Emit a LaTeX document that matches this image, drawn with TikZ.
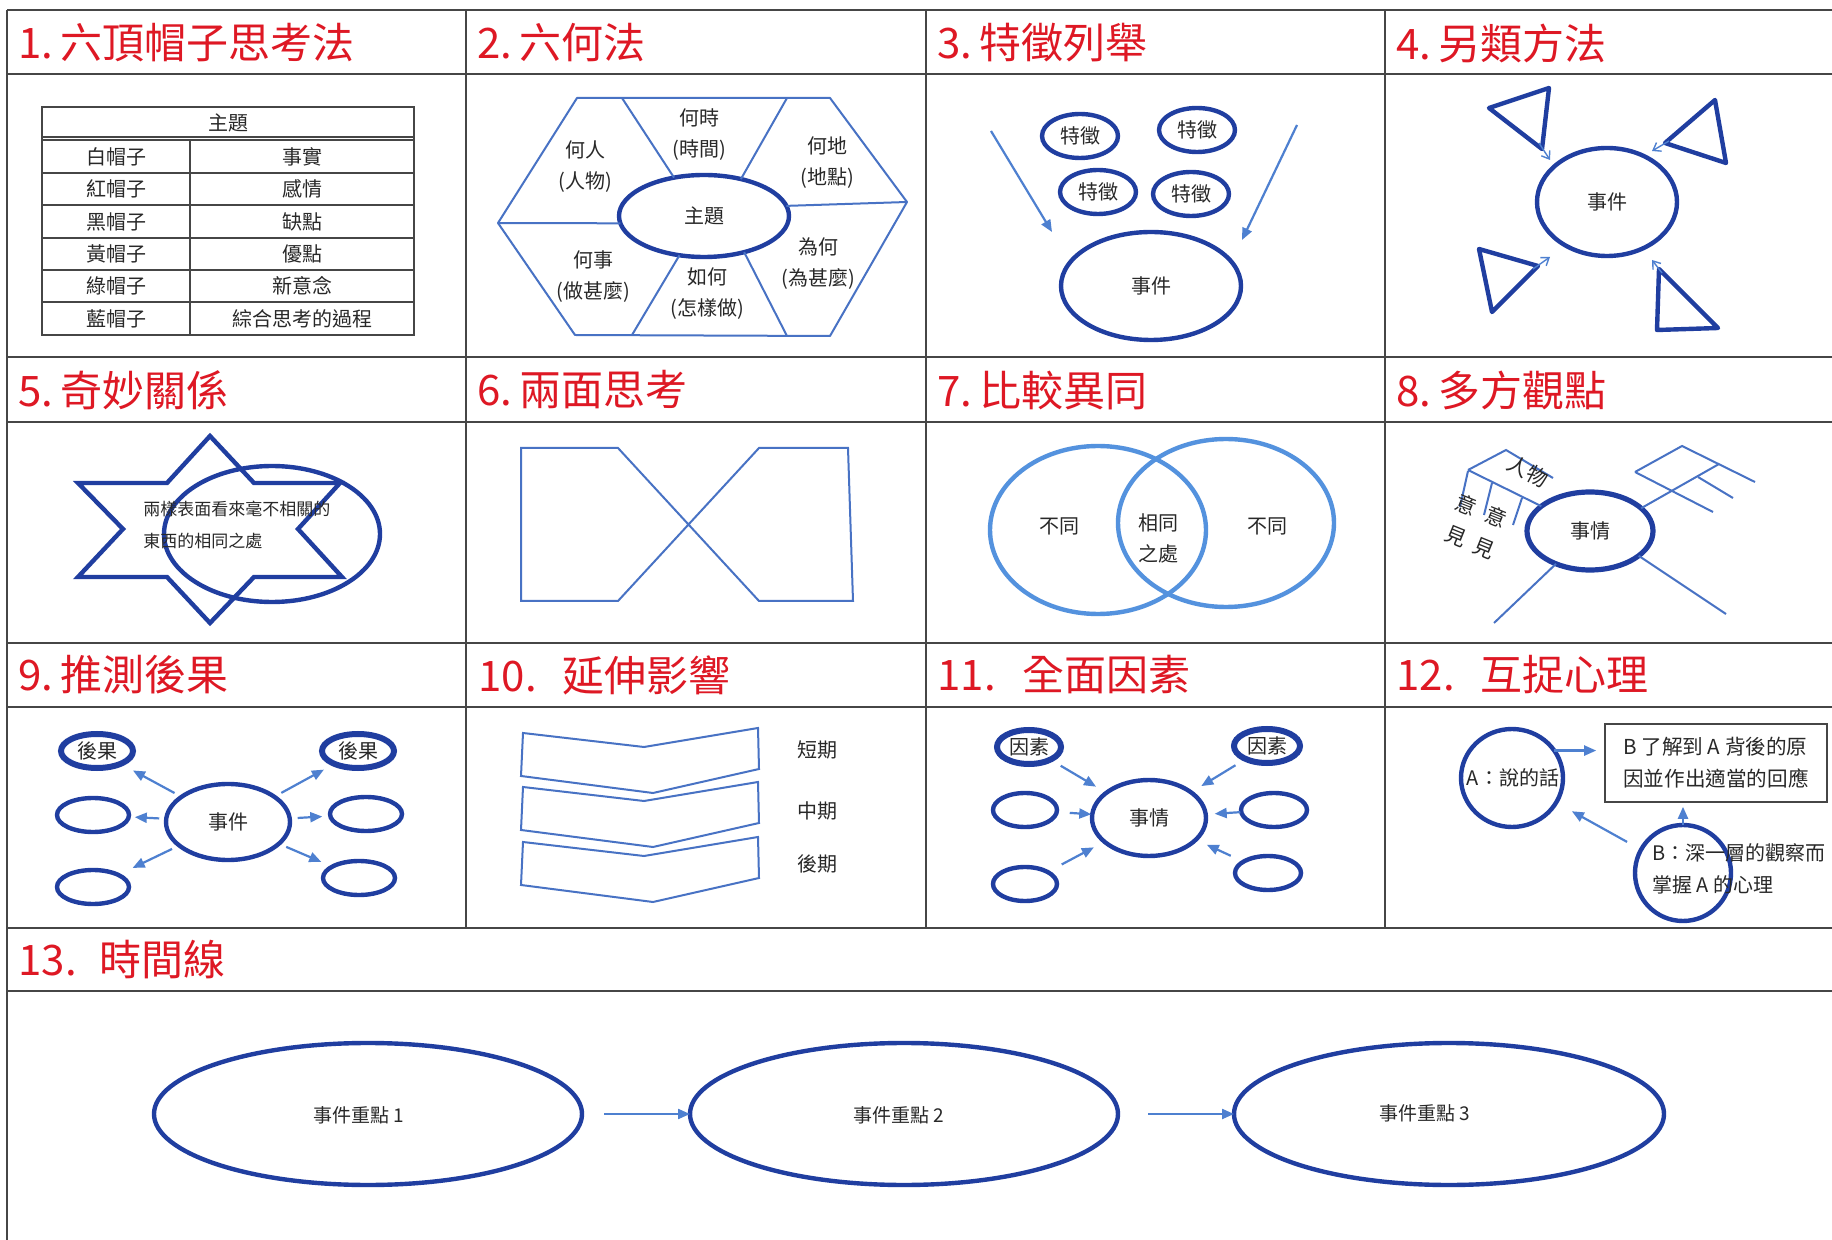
\documentclass[tikz,border=0pt]{standalone}
\usepackage{fontspec}
\setmainfont{Noto Sans CJK TC}
\usetikzlibrary{shapes.geometric,arrows.meta}
\definecolor{dkblue}{RGB}{32,62,160}
\definecolor{mdblue}{RGB}{72,114,196}
\definecolor{ltblue}{RGB}{84,146,222}
\definecolor{arblue}{RGB}{78,128,208}
\definecolor{ttlred}{RGB}{222,24,36}
\definecolor{gridc}{RGB}{70,70,70}
\definecolor{txtc}{RGB}{40,40,40}
\begin{document}
\begin{tikzpicture}[x=0.5pt,y=-0.5pt,
  gridln/.style={draw=gridc, line width=0.9pt},
  tblln/.style={draw=gridc, line width=0.75pt},
  ttl/.style={anchor=west, text=ttlred, font=\fontsize{21}{25}\selectfont, inner sep=0pt},
  lbl/.style={font=\fontsize{10}{15.5}\selectfont, text=txtc, inner sep=0pt, align=center},
  thk/.style={draw=dkblue, line width=2.2pt},
  oval/.style={ellipse, draw=dkblue, line width=2.2pt, inner sep=0pt, outer sep=0pt, font=\fontsize{10}{12}\selectfont, text=txtc},
  mline/.style={draw=mdblue, line width=1pt},
  arr/.style={draw=arblue, line width=1.1pt, -{Triangle[length=6pt,width=5pt]}},
  oarr/.style={draw=arblue, line width=0.7pt, -{Straight Barb[length=3.5pt,width=5pt]}}
]
\useasboundingbox (0,0) rectangle (1832,1240);
\fill[white] (0,0) rectangle (1832,1240);

% ---------- grid ----------
\foreach \yy in {10,74,357,422,643,707,928,991}{\draw[gridln] (7,\yy) -- (1832,\yy);}
\draw[gridln] (7,10) -- (7,1240);
\foreach \xx in {466,926,1385}{\draw[gridln] (\xx,10) -- (\xx,928);}

% ---------- titles ----------
\node[ttl] (T1) at (18,43) {\makebox[21pt][l]{1.}六頂帽子思考法};
\node[ttl] (T2) at (477,43) {\makebox[21pt][l]{2.}六何法};
\node[ttl] (T3) at (937,43) {\makebox[21pt][l]{3.}特徵列舉};
\node[ttl] (T4) at (1396,43) {\makebox[21pt][l]{4.}另類方法};
\node[ttl] (T5) at (18,390) {\makebox[21pt][l]{5.}奇妙關係};
\node[ttl] (T6) at (477,390) {\makebox[21pt][l]{6.}兩面思考};
\node[ttl] (T7) at (937,390) {\makebox[21pt][l]{7.}比較異同};
\node[ttl] (T8) at (1396,390) {\makebox[21pt][l]{8.}多方觀點};
\node[ttl] (T9) at (18,675) {\makebox[21pt][l]{9.}推測後果};
\node[ttl] (T10) at (478,675) {\makebox[42pt][l]{10.}延伸影響};
\node[ttl] (T11) at (937,675) {\makebox[42.5pt][l]{11.}全面因素};
\node[ttl] (T12) at (1396,675) {\makebox[42pt][l]{12.}互捉心理};
\node[ttl] (T13) at (18,960) {\makebox[40.5pt][l]{13.}時間線};

% ---------- 1. table ----------
\draw[tblln] (42,107) rectangle (414,335);
\draw[tblln] (42,137) -- (414,137);
\draw[tblln] (42,140) -- (414,140);
\foreach \yy in {173,205,238,270,302}{\draw[tblln] (42,\yy) -- (414,\yy);}
\draw[tblln] (190,140) -- (190,335);
\node[lbl] (th) at (228,123) {主題};
\node[lbl] (ta1) at (116,156.5) {白帽子};  \node[lbl] (tb1) at (302,156.5) {事實};
\node[lbl] (ta2) at (116,189) {紅帽子};    \node[lbl] (tb2) at (302,189) {感情};
\node[lbl] (ta3) at (116,221.5) {黑帽子};  \node[lbl] (tb3) at (302,221.5) {缺點};
\node[lbl] (ta4) at (116,254) {黃帽子};    \node[lbl] (tb4) at (302,254) {優點};
\node[lbl] (ta5) at (116,286) {綠帽子};    \node[lbl] (tb5) at (302,286) {新意念};
\node[lbl] (ta6) at (116,318.5) {藍帽子};  \node[lbl] (tb6) at (302,318.5) {綜合思考的過程};

% ---------- 2. hexagon ----------
\draw[mline, line join=round] (577,98) -- (830,98) -- (907,202) -- (830,336) -- (575,335) -- (498,223) -- cycle;
\node[oval, minimum width=85pt, minimum height=41pt] (e2) at (704,216) {主題};
\draw[mline] (622,98) -- (e2.128);
\draw[mline] (787,98) -- (e2.45);
\draw[mline] (498,223) -- (e2.185);
\draw[mline] (e2.7) -- (907,202);
\draw[mline] (e2.238) -- (632,335);
\draw[mline] (e2.-42) -- (787,336);
\node[lbl] (h1) at (585,167) {何人\\(人物)};
\node[lbl] (h2) at (699,135) {何時\\(時間)};
\node[lbl] (h3) at (827,163) {何地\\(地點)};
\node[lbl] (h4) at (593,277) {何事\\(做甚麼)};
\node[lbl] (h5) at (707,294) {如何\\(怎樣做)};
\node[lbl] (h6) at (818,264) {為何\\(為甚麼)};

% ---------- 3. features ----------
\node[oval, minimum width=38pt, minimum height=22pt] (f1) at (1080,136) {特徵};
\node[oval, minimum width=38pt, minimum height=22pt] (f2) at (1197,130) {特徵};
\node[oval, minimum width=38pt, minimum height=22pt] (f3) at (1098,192) {特徵};
\node[oval, minimum width=38pt, minimum height=22pt] (f4) at (1191,194) {特徵};
\node[oval, minimum width=90pt, minimum height=54pt] (ev3) at (1151,286) {事件};
\coordinate (a3s) at (991,131); \coordinate (a3e) at (1052,232);
\coordinate (b3s) at (1297,125); \coordinate (b3e) at (1242,240);
\draw[arr] (a3s) -- (a3e);
\draw[arr] (b3s) -- (b3e);

% ---------- 4. triangles ----------
\node[oval, minimum width=70pt, minimum height=54pt] (ev4) at (1607,202) {事件};
\draw[thk, line join=round] (1489,108) -- (1549,88) -- (1542,149) -- cycle;
\draw[thk, line join=round] (1665,143) -- (1715,100) -- (1726,163) -- cycle;
\draw[thk, line join=round] (1479,249) -- (1538,266) -- (1492,312) -- cycle;
\draw[thk, line join=round] (1659,269) -- (1718,328) -- (1657,330) -- cycle;
\coordinate (q1s) at (1539,143); \coordinate (q1e) at (1550,160);
\coordinate (q2s) at (1669,141); \coordinate (q2e) at (1652,151);
\coordinate (q3s) at (1533,269); \coordinate (q3e) at (1550,257);
\coordinate (q4s) at (1662,273); \coordinate (q4e) at (1652,260);
\draw[oarr] (q1s) -- (q1e);
\draw[oarr] (q2s) -- (q2e);
\draw[oarr] (q3s) -- (q3e);
\draw[oarr] (q4s) -- (q4e);

% ---------- 5. star ----------
\draw[thk, line join=miter] (210,436) -- (254,483) -- (340,483) -- (298,529) -- (342,577) -- (254,577) -- (210,623) -- (167,577) -- (78,577) -- (123,529) -- (78,483) -- (167,483) -- cycle;
\node[oval, minimum width=108pt, minimum height=68pt] (e5) at (272,534) {};
\node[lbl, align=left, anchor=west, font=\fontsize{8.5}{16}\selectfont] (t5) at (143,525) {兩樣表面看來毫不相關的\\東西的相同之處};

% ---------- 6. two sides ----------
\draw[mline, line join=miter] (521,448) -- (618,448) -- (759,601) -- (853,601) -- (848,448) -- (759,448) -- (618,601) -- (521,601) -- cycle;

% ---------- 7. venn ----------
\node[ellipse, draw=ltblue, line width=2.2pt, minimum width=108pt, minimum height=84pt, inner sep=0pt] (v1) at (1098,530) {};
\node[ellipse, draw=ltblue, line width=2.2pt, minimum width=108pt, minimum height=84pt, inner sep=0pt] (v2) at (1226,523) {};
\node[lbl] (v1t) at (1059,526) {不同};
\node[lbl] (vct) at (1158,538) {相同\\之處};
\node[lbl] (v2t) at (1267,526) {不同};

% ---------- 8. viewpoints ----------
\node[oval, minimum width=63pt, minimum height=39pt, line width=2.6pt] (e8) at (1590,531) {事情};
\draw[mline] (1468,470) -- (e8.153);
\draw[mline] (1468,470) -- (1506,450) -- (1553,478);
\draw[mline] (1468,471) -- (1460,507);
\draw[mline] (1492,483) -- (1484,515);
\draw[mline] (1522,498) -- (1513,525);
\draw[mline] (e8.24) -- (1719,464);
\draw[mline] (1635,472) -- (1682,446) -- (1755,482);
\draw[mline] (1635,472) -- (1713,512);
\draw[mline] (1698,477) -- (1733,498);
\draw[mline] (e8.224) -- (1494,623);
\draw[mline] (e8.-27) -- (1726,614);
\node[lbl, font=\fontsize{10.5}{12}\selectfont, rotate=-28] (r8a) at (1528,471) {人物};
\node[lbl, font=\fontsize{10.5}{12}\selectfont, rotate=-22] (r8b) at (1466,505) {意};
\node[lbl, font=\fontsize{10.5}{12}\selectfont, rotate=-22] (r8c) at (1456,536) {見};
\node[lbl, font=\fontsize{10.5}{12}\selectfont, rotate=-22] (r8d) at (1496,517) {意};
\node[lbl, font=\fontsize{10.5}{12}\selectfont, rotate=-22] (r8e) at (1484,548) {見};

% ---------- 9. consequences ----------
\node[oval, minimum width=62pt, minimum height=38pt] (ev9) at (228,822) {事件};
\node[oval, minimum width=36pt, minimum height=17pt, line width=3pt] (c9a) at (97,751) {後果};
\node[oval, minimum width=36pt, minimum height=17pt] (c9b) at (93,815) {};
\node[oval, minimum width=36pt, minimum height=17pt] (c9c) at (93,887) {};
\node[oval, minimum width=36pt, minimum height=17pt, line width=3pt] (c9d) at (358,751) {後果};
\node[oval, minimum width=36pt, minimum height=17pt] (c9e) at (366,814) {};
\node[oval, minimum width=36pt, minimum height=17pt] (c9f) at (359,878) {};
\draw[arr, shorten <=4pt, shorten >=7pt] (ev9) -- (c9a);
\draw[arr, shorten <=3.5pt, shorten >=3pt] (ev9) -- (c9b);
\draw[arr, shorten <=4pt, shorten >=8pt] (ev9) -- (c9c);
\draw[arr, shorten <=4pt, shorten >=6pt] (ev9) -- (c9d);
\draw[arr, shorten <=4pt, shorten >=4pt] (ev9) -- (c9e);
\draw[arr, shorten <=4pt, shorten >=6pt] (ev9) -- (c9f);

% ---------- 10. chevrons ----------
\foreach \dy in {0,54,109}{
  \draw[mline, line join=miter] (523,733+\dy) -- (644,747+\dy) -- (758,728+\dy) -- (759,769+\dy) -- (653,793+\dy) -- (521,776+\dy) -- cycle;
}
\node[lbl] (p10a) at (817,750) {短期};
\node[lbl] (p10b) at (817,811) {中期};
\node[lbl] (p10c) at (817,864) {後期};

% ---------- 11. factors ----------
\node[oval, minimum width=57pt, minimum height=38pt] (ev11) at (1149,818) {事情};
\node[oval, minimum width=32pt, minimum height=17pt, line width=3pt] (k1) at (1029,747) {因素};
\node[oval, minimum width=32pt, minimum height=17pt] (k2) at (1025,810) {};
\node[oval, minimum width=32pt, minimum height=17pt] (k3) at (1025,884) {};
\node[oval, minimum width=33pt, minimum height=17pt, line width=3pt] (k4) at (1267,746) {因素};
\node[oval, minimum width=33pt, minimum height=17pt] (k5) at (1274,810) {};
\node[oval, minimum width=33pt, minimum height=17pt] (k6) at (1268,873) {};
\draw[arr, shorten <=6pt, shorten >=6pt] (k1) -- (ev11);
\draw[arr, shorten <=6.5pt, shorten >=0.5pt] (k2) -- (ev11);
\draw[arr, shorten <=8pt, shorten >=6pt] (k3) -- (ev11);
\draw[arr, shorten <=6pt, shorten >=6pt] (k4) -- (ev11);
\draw[arr, shorten <=0.5pt, shorten >=4.5pt] (k5) -- (ev11);
\draw[arr, shorten <=7pt, shorten >=6pt] (k6) -- (ev11);

% ---------- 12. mind reading ----------
\node[oval, minimum width=51pt, minimum height=49pt] (cA) at (1512,778) {};
\node[lbl] (tA) at (1513,778) {A：說的話};
\node[draw=gridc, line width=0.8pt, minimum width=111pt, minimum height=39pt, inner sep=0pt, align=left, text=txtc, font=\fontsize{10.3}{16}\selectfont] (bx) at (1716,763) {B 了解到 A 背後的原\\因並作出適當的回應};
\node[oval, minimum width=48pt, minimum height=48pt] (cB) at (1683,873) {};
\node[lbl, align=left, anchor=west, font=\fontsize{10}{16}\selectfont] (tB) at (1652,869) {B：深一層的觀察而\\掌握 A 的心理};
\draw[arr, shorten >=4pt] (cA.33) -- (cA.33 -| bx.west);
\draw[arr, shorten <=8pt, shorten >=9pt] (cB) -- (cA);
\draw[arr, shorten >=2pt] (cB.north) -- (cB.north |- bx.south);

% ---------- 13. timeline ----------
\node[oval, minimum width=214pt, minimum height=71pt] (m1) at (368,1114) {};
\node[oval, minimum width=214pt, minimum height=71pt] (m2) at (904,1114) {};
\node[oval, minimum width=215pt, minimum height=71pt] (m3) at (1449,1114) {};
\node[lbl, font=\fontsize{9.5}{12}\selectfont] (m1t) at (359,1115) {事件重點 1};
\node[lbl, font=\fontsize{9.5}{12}\selectfont] (m2t) at (899,1115) {事件重點 2};
\node[lbl, font=\fontsize{9.5}{12}\selectfont] (m3t) at (1425,1113) {事件重點 3};
\draw[arr, shorten <=11pt] (m1) -- (m2);
\draw[arr, shorten <=15pt] (m2) -- (m3);
\end{tikzpicture}
\end{document}
